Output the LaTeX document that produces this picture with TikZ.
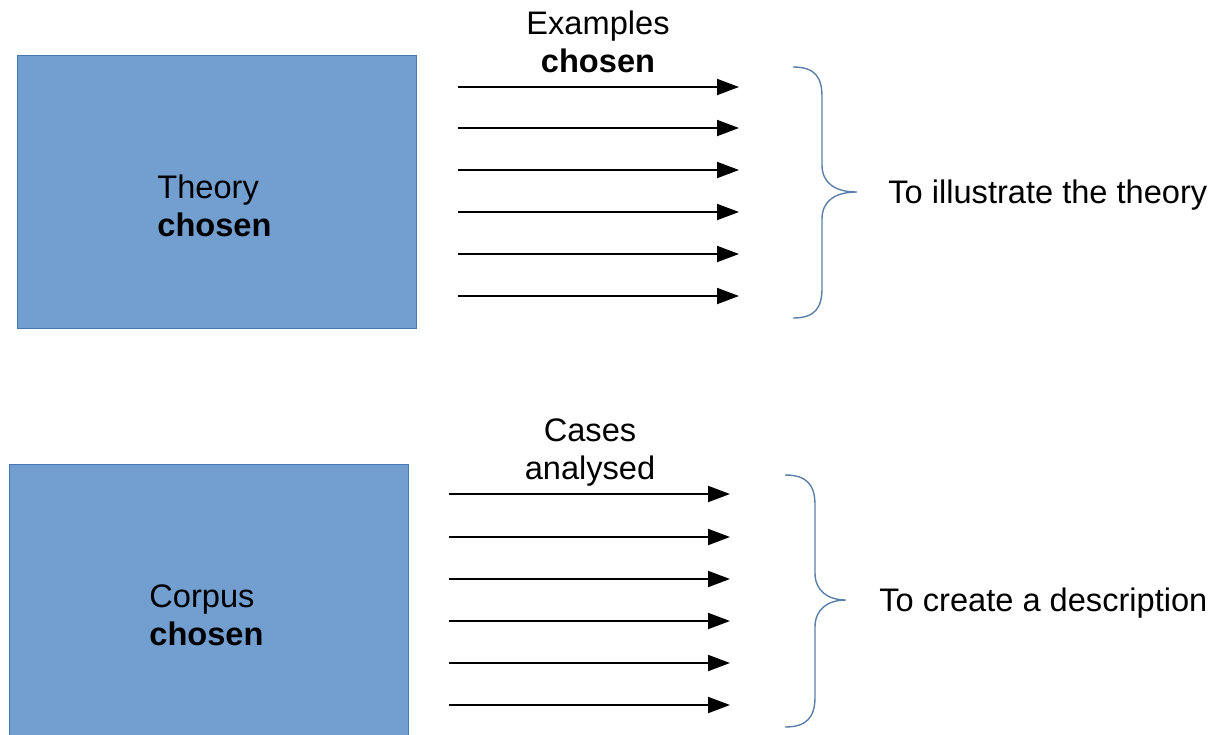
\documentclass[tikz,border=0pt]{standalone}
\usepackage{fontspec}
\setmainfont{Liberation Sans}
\usetikzlibrary{arrows.meta}
\definecolor{boxfill}{HTML}{729FCF}
\definecolor{boxline}{HTML}{4A79B0}
\definecolor{bracecol}{HTML}{5B7FA8}
\tikzset{
  bluebox/.style={draw=boxline, fill=boxfill, line width=0.5pt},
  txt/.style={font=\fontsize{16.3}{19}\selectfont, align=center, inner sep=0pt},
  arr/.style={line width=1pt, -{Triangle[length=11pt,width=8pt]}},
  bracestyle/.style={draw=bracecol, line width=0.7pt}
}
\begin{document}
\begin{tikzpicture}[x=0.5pt,y=-0.5pt]
\useasboundingbox (0,0) rectangle (1226,734);
% boxes
\draw[bluebox] (17,55) rectangle (416,328);
\draw[bluebox] (9,464) rectangle (408,745);
\node[txt, align=left, anchor=west] (theory) at (157,206) {Theory\\\textbf{chosen}};
\node[txt, align=left, anchor=west] (corpus) at (149,615) {Corpus\\\textbf{chosen}};
% labels
\node[txt] (examples) at (598,42) {Examples\\\textbf{chosen}};
\node[txt] (cases) at (590,452) {Cases\\analysed};
% arrows top
\foreach \i/\y in {1/87,2/128,3/170,4/212,5/254,6/296}{
  \coordinate (ts\i) at (458,\y);
  \coordinate (te\i) at (739,\y);
  \draw[arr] (ts\i) -- (te\i);
}
\foreach \i/\y in {1/494,2/537,3/579,4/621,5/663,6/705}{
  \coordinate (bs\i) at (449,\y);
  \coordinate (be\i) at (730,\y);
  \draw[arr] (bs\i) -- (be\i);
}
% braces
\draw[bracestyle] (793,67) .. controls (815,67) and (822,77) .. (822,97) -- (822,165)
  .. controls (822,183) and (835,192) .. (857,192)
  .. controls (835,192) and (822,201) .. (822,219) -- (822,288)
  .. controls (822,308) and (815,318) .. (793,318);
\draw[bracestyle] (785,475) .. controls (807,475) and (815,485) .. (815,505) -- (815,573)
  .. controls (815,591) and (828,600) .. (846,600)
  .. controls (828,600) and (815,609) .. (815,627) -- (815,697)
  .. controls (815,717) and (807,727) .. (785,727);
% right texts
\node[txt, anchor=west] (illus) at (888,195) {To illustrate the theory};
\node[txt, anchor=west] (descr) at (879,603) {To create a description};
\end{tikzpicture}
\end{document}
